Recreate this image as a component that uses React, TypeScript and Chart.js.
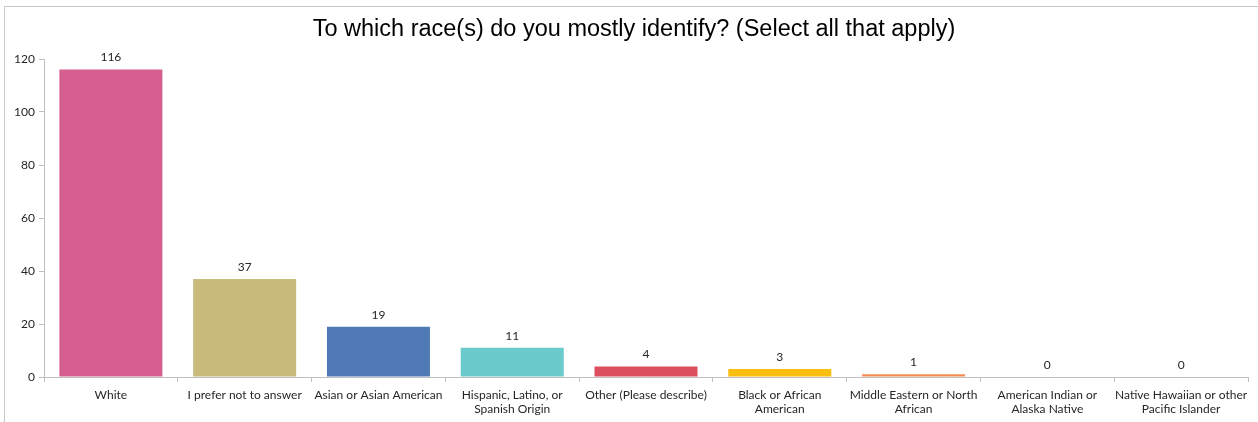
import React, { useEffect, useRef } from "react";
import { Chart, registerables } from "chart.js";

Chart.register(...registerables);

const TITLE = "To which race(s) do you mostly identify? (Select all that apply)";
const CATEGORIES: (string | string[])[] = [
  "White",
  "I prefer not to answer",
  "Asian or Asian American",
  ["Hispanic, Latino, or", "Spanish Origin"],
  "Other (Please describe)",
  ["Black or African", "American"],
  ["Middle Eastern or North", "African"],
  ["American Indian or", "Alaska Native"],
  ["Native Hawaiian or other", "Pacific Islander"],
];
const VALUES = [116, 37, 19, 11, 4, 3, 1, 0, 0];
const COLORS = [
  "#D5608F",
  "#C8BA7B",
  "#4F7AB5",
  "#6BCACB",
  "#DC4F5E",
  "#F9BE0E",
  "#F68B54",
  "#7F7F7F",
  "#7F7F7F",
];
const Y_MIN = 0;
const Y_MAX = 120;
const Y_STEP = 20;

const FONT = "Lato, 'Liberation Sans', sans-serif";

const valueLabels = {
  id: "valueLabels",
  afterDatasetsDraw(chart: any) {
    const ctx = chart.ctx;
    const meta = chart.getDatasetMeta(0);
    ctx.save();
    ctx.font = `12px ${FONT}`;
    ctx.fillStyle = "#262626";
    ctx.textAlign = "center";
    ctx.textBaseline = "bottom";
    meta.data.forEach((bar: any, i: number) => {
      ctx.fillText(String(VALUES[i]), bar.x, bar.y - 6);
    });
    ctx.restore();
  },
};

const titlePlugin = {
  id: "manualTitle",
  afterDraw(chart: any) {
    const ctx = chart.ctx;
    ctx.save();
    ctx.font = `23.5px 'Liberation Sans', Arial, sans-serif`;
    ctx.fillStyle = "#000";
    ctx.textAlign = "center";
    ctx.textBaseline = "middle";
    ctx.fillText(TITLE, 634, 30);
    ctx.restore();
  },
};

export default function App() {
  const ref = useRef<HTMLCanvasElement>(null);
  useEffect(() => {
    if (!ref.current) return;
    const chart = new Chart(ref.current, {
      type: "bar",
      data: {
        labels: CATEGORIES,
        datasets: [
          {
            data: VALUES,
            backgroundColor: COLORS,
            borderWidth: 0,
            barPercentage: 0.77,
            categoryPercentage: 1,
          },
        ],
      },
      options: {
        responsive: false,
        animation: false,
        layout: { padding: { left: 0, right: 10, top: 59, bottom: 0 } },
        plugins: {
          legend: { display: false },
          tooltip: { enabled: false },
          title: { display: false },
        },
        scales: {
          x: {
            grid: {
              display: true,
              drawOnChartArea: false,
              drawTicks: true,
              tickLength: 5,
              color: "#BFBFBF",
              offset: true,
            },
            border: { display: true, color: "#BFBFBF" },
            ticks: {
              color: "#262626",
              font: { family: FONT, size: 12 },
              padding: 6,
              maxRotation: 0,
              autoSkip: false,
            },
            afterFit(scale: any) {
              scale.height = 45;
            },
          },
          y: {
            min: Y_MIN,
            max: Y_MAX,
            ticks: {
              stepSize: Y_STEP,
              color: "#262626",
              font: { family: FONT, size: 12 },
              padding: 4,
            },
            grid: {
              display: true,
              drawOnChartArea: false,
              drawTicks: true,
              tickLength: 5,
              color: "#BFBFBF",
            },
            border: { display: true, color: "#BFBFBF" },
            afterFit(scale: any) {
              scale.width = 44;
            },
          },
        },
      },
      plugins: [valueLabels, titlePlugin],
    });
    return () => chart.destroy();
  }, []);

  return (
    <div style={{ position: "absolute", left: 0, top: 0, width: 1258, height: 422, background: "#fff" }}>
      <div
        style={{
          position: "absolute",
          left: 4,
          top: 6,
          right: 0,
          bottom: 0,
          borderTop: "1px solid #C8C8C8",
          borderLeft: "1px solid #C8C8C8",
        }}
      />
      <canvas ref={ref} width={1258} height={422} style={{ position: "absolute", left: 0, top: 0 }} />
    </div>
  );
}
